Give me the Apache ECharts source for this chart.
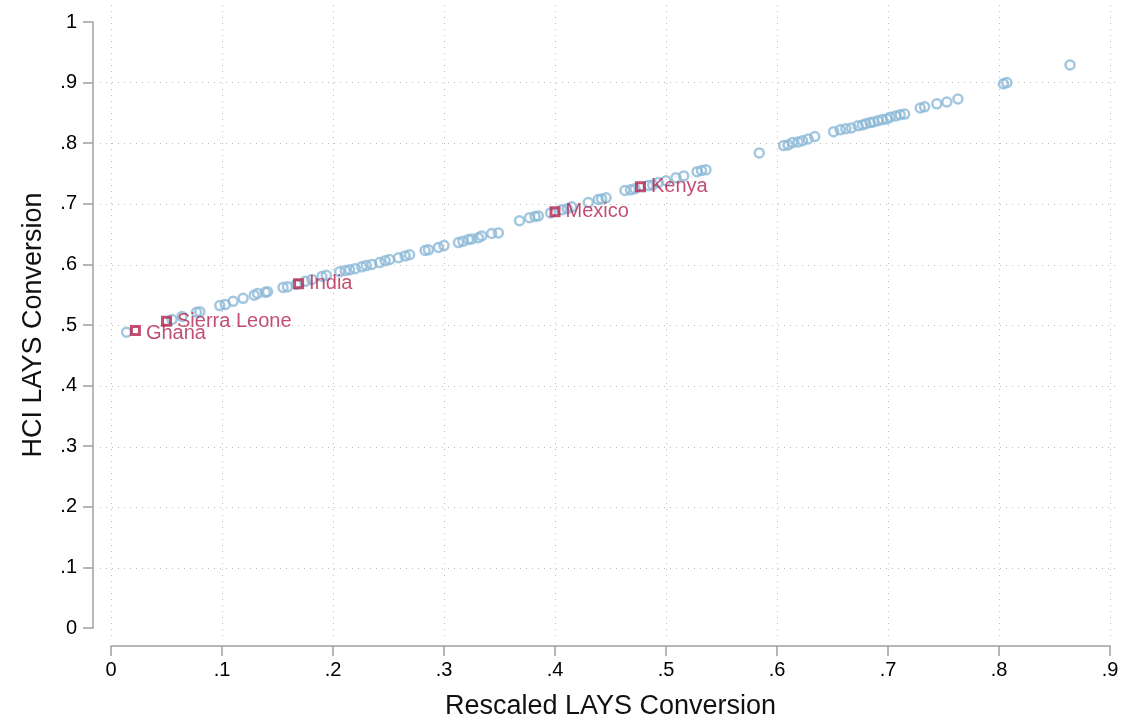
<!DOCTYPE html>
<html>
<head>
<meta charset="utf-8">
<script src="https://cdn.jsdelivr.net/npm/echarts@6/dist/echarts.min.js"></script>
<style>
html,body{margin:0;padding:0;background:#fff;}
#chart{width:1128px;height:725px;}
</style>
</head>
<body>
<div id="chart"></div>
<script>
// All countries: rescaled LAYS (x) vs HCI LAYS (y)
var xVals = [0.014,0.055,0.064,0.077,0.080,0.098,0.103,0.110,0.119,0.129,0.132,0.139,0.141,0.155,0.159,0.167,0.175,0.181,0.190,0.194,
  0.206,0.211,0.215,0.220,0.226,0.230,0.235,0.242,0.247,0.251,0.259,0.265,0.269,0.283,0.286,0.295,0.300,0.313,0.317,0.322,
  0.325,0.331,0.334,0.343,0.349,0.368,0.377,0.382,0.385,0.396,0.406,0.411,0.415,0.430,0.439,0.442,0.446,0.463,0.468,0.472,
  0.484,0.488,0.493,0.500,0.509,0.516,0.528,0.532,0.536,0.584,0.606,0.610,0.614,0.619,0.623,0.628,0.634,0.651,0.657,0.662,
  0.667,0.673,0.677,0.680,0.684,0.687,0.691,0.695,0.699,0.702,0.707,0.711,0.715,0.729,0.733,0.744,0.753,0.763,0.804,0.807,0.864];
var yVals = [0.488,0.509,0.514,0.521,0.522,0.532,0.534,0.539,0.544,0.549,0.552,0.554,0.555,0.562,0.563,0.567,0.572,0.575,0.580,0.582,
  0.588,0.590,0.591,0.593,0.596,0.598,0.600,0.603,0.606,0.608,0.611,0.614,0.616,0.623,0.624,0.628,0.631,0.636,0.638,0.641,
  0.642,0.644,0.647,0.651,0.652,0.672,0.677,0.679,0.680,0.685,0.690,0.692,0.695,0.702,0.707,0.708,0.710,0.722,0.723,0.725,
  0.730,0.731,0.735,0.738,0.743,0.746,0.753,0.755,0.756,0.784,0.796,0.797,0.801,0.802,0.804,0.807,0.811,0.819,0.822,0.824,
  0.825,0.829,0.830,0.832,0.834,0.835,0.837,0.839,0.840,0.843,0.845,0.847,0.848,0.858,0.860,0.865,0.868,0.873,0.898,0.900,0.929];
// Highlighted countries
var hlNames = ["Ghana","Sierra Leone","India","Mexico","Kenya"];
var hlX = [0.022,0.050,0.169,0.400,0.477];
var hlY = [0.491,0.506,0.568,0.687,0.728];
// Axis ticks
var xTicks = [0,0.1,0.2,0.3,0.4,0.5,0.6,0.7,0.8,0.9];
var yTicks = [0,0.1,0.2,0.3,0.4,0.5,0.6,0.7,0.8,0.9,1];
var yGridTicks = [0.1,0.2,0.3,0.4,0.5,0.6,0.7,0.8,0.9];

function fmt(v){
  if (Math.abs(v) < 1e-9) return "0";
  if (Math.abs(v-1) < 1e-9) return "1";
  return "." + Math.round(v*10);
}

var allData = xVals.map(function(x,i){return [x, yVals[i]];});
var hlData = hlX.map(function(x,i){return [x, hlY[i]];});

var axisLineStyle = {color:'#a0a0a0', width:1.5};
var gridLineStyle = {color:'#bdbdbd', width:1, type:[1,5]};

// plot-region (slightly larger than the data range) used only for grid lines
var pxPerX = 999/0.9, pxPerY = 607;
var xMin2 = -11/pxPerX, xMax2 = xMin2 + 1020/pxPerX;
var yMin2 = -11/pxPerY, yMax2 = yMin2 + 635/pxPerY;

var chart = echarts.init(document.getElementById('chart'), null, {renderer:'canvas'});
chart.setOption({
  animation:false,
  backgroundColor:'#ffffff',
  textStyle:{fontFamily:'Liberation Sans, Arial, sans-serif'},
  grid:[
    {left:111, right:18, top:22, bottom:96, containLabel:false},
    {left:100, right:8, top:5, bottom:85, containLabel:false}
  ],
  xAxis:[{
    gridIndex:0,
    type:'value', min:xTicks[0], max:xTicks[xTicks.length-1], interval:0.1,
    offset:18,
    axisLine:{show:true, onZero:false, lineStyle:axisLineStyle},
    axisTick:{show:true, inside:false, length:10, lineStyle:axisLineStyle},
    axisLabel:{formatter:fmt, fontSize:20, color:'#000', margin:14},
    splitLine:{show:false},
    name:'Rescaled LAYS Conversion', nameLocation:'middle', nameGap:47,
    nameTextStyle:{fontSize:27, color:'#111'}
  },{
    gridIndex:1,
    type:'value', min:xMin2, max:xMax2,
    axisLine:{show:false}, axisLabel:{show:false},
    axisTick:{show:false, customValues:xTicks},
    splitLine:{show:true, showMinLine:true, showMaxLine:true, lineStyle:gridLineStyle}
  }],
  yAxis:[{
    gridIndex:0,
    type:'value', min:yTicks[0], max:yTicks[yTicks.length-1], interval:0.1,
    offset:18,
    axisLine:{show:true, onZero:false, lineStyle:axisLineStyle},
    axisTick:{show:true, inside:false, length:10, lineStyle:axisLineStyle},
    axisLabel:{formatter:fmt, fontSize:20, color:'#000', margin:16},
    splitLine:{show:false},
    name:'HCI LAYS Conversion', nameLocation:'middle', nameGap:46,
    nameTextStyle:{fontSize:27, color:'#111'}
  },{
    gridIndex:1,
    type:'value', min:yMin2, max:yMax2,
    axisLine:{show:false}, axisLabel:{show:false},
    axisTick:{show:false, customValues:yGridTicks},
    splitLine:{show:true, showMinLine:true, showMaxLine:true, lineStyle:gridLineStyle}
  }],
  series:[
    {
      type:'scatter', xAxisIndex:0, yAxisIndex:0, data:allData, symbol:'circle', symbolSize:9,
      itemStyle:{color:'rgba(0,0,0,0)', borderColor:'#8cb9d7', borderWidth:2.5},
      z:2
    },
    {
      type:'scatter', xAxisIndex:0, yAxisIndex:0, data:hlData, symbol:'rect', symbolSize:8,
      itemStyle:{color:'rgba(0,0,0,0)', borderColor:'#b3234e', borderWidth:3},
      label:{show:true, position:'right', distance:5, fontSize:20, color:'#b3234e',
        formatter:function(p){return hlNames[p.dataIndex];}},
      labelLayout:function(p){ return p.dataIndex===0 ? {dy:3} : {}; },
      z:3
    }
  ]
});
</script>
</body>
</html>
